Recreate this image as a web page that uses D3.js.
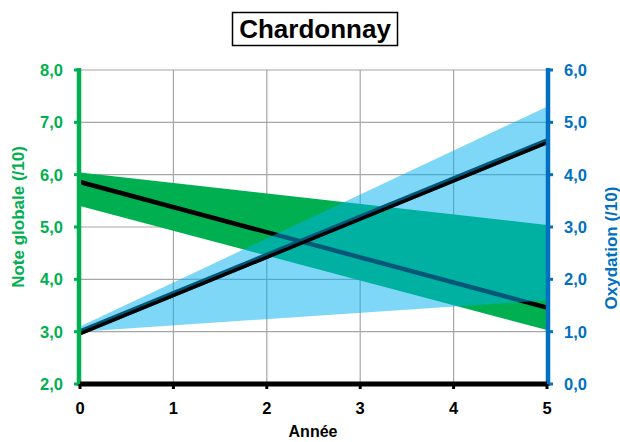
<!DOCTYPE html>
<html>
<head>
<meta charset="utf-8">
<script src="https://cdn.jsdelivr.net/npm/d3@7"></script>
<style>
  body { margin: 0; background: #fff; }
  text { font-family: "Liberation Sans", Arial, sans-serif; font-weight: bold; }
</style>
</head>
<body>
<script>
// Data
const years = [0, 5];
const noteMid = [5.86, 3.46];
const noteHigh = [6.04, 5.04];
const noteLow = [5.4, 3.03];
const oxMid = [0.99, 4.64];
const oxHigh = [1.1, 5.3];
const oxLow = [1.0, 1.6];

const xTicks = [0, 1, 2, 3, 4, 5];
const leftTicks = [2, 3, 4, 5, 6, 7, 8];
const rightTicks = [0, 1, 2, 3, 4, 5, 6];

const width = 620, height = 442;
const green = "#00b050", blue = "#0070c0";
const fmt = d => d.toFixed(1).replace(".", ",");

const x = d3.scaleLinear().domain([0, 5]).range([80, 547]);
const yL = d3.scaleLinear().domain([2, 8]).range([384, 70]);
const yR = d3.scaleLinear().domain([0, 6]).range([384, 70]);

const svg = d3.select("body").append("svg")
    .attr("width", width)
    .attr("height", height);

// grid
svg.append("g")
    .selectAll("line")
    .data(leftTicks)
    .join("line")
    .attr("x1", x(0)).attr("x2", x(5))
    .attr("y1", d => yL(d)).attr("y2", d => yL(d))
    .attr("stroke", "#a6a6a6").attr("stroke-width", 1.2);
svg.append("g")
    .selectAll("line")
    .data(xTicks)
    .join("line")
    .attr("x1", d => x(d)).attr("x2", d => x(d))
    .attr("y1", yL(8)).attr("y2", yL(2))
    .attr("stroke", "#a6a6a6").attr("stroke-width", 1.2);

const pts = (arr) => years.map((t, i) => [t, arr[i]]);

// green band
const noteArea = d3.area()
    .x((d, i) => x(years[i]))
    .y0((d, i) => yL(noteLow[i]))
    .y1((d, i) => yL(noteHigh[i]));
svg.append("path").datum(years).attr("d", noteArea).attr("fill", green);

const lineL = d3.line().x(d => x(d[0])).y(d => yL(d[1]));
const lineR = d3.line().x(d => x(d[0])).y(d => yR(d[1]));

svg.append("path").datum(pts(noteMid)).attr("d", lineL)
    .attr("stroke", "#000").attr("stroke-width", 4.5).attr("fill", "none");

// oxydation line under the band (shows darker edge)
svg.append("path").datum(pts(oxMid)).attr("d", lineR)
    .attr("stroke", "#000").attr("stroke-width", 6).attr("fill", "none");

// blue band
const oxArea = d3.area()
    .x((d, i) => x(years[i]))
    .y0((d, i) => yR(oxLow[i]))
    .y1((d, i) => yR(oxHigh[i]));
svg.append("path").datum(years).attr("d", oxArea)
    .attr("fill", "#00b0f0").attr("fill-opacity", 0.5);

svg.append("path").datum(pts(oxMid)).attr("d", lineR)
    .attr("transform", "translate(0,1.5)")
    .attr("stroke", "#000").attr("stroke-width", 3.5).attr("fill", "none");

// left axis
svg.append("line")
    .attr("x1", x(0) - 1).attr("x2", x(0) - 1)
    .attr("y1", yL(8) - 2).attr("y2", yL(2) + 2)
    .attr("stroke", green).attr("stroke-width", 4.5);
svg.append("g").selectAll("line")
    .data(leftTicks)
    .join("line")
    .attr("x1", x(0) - 6).attr("x2", x(0))
    .attr("y1", d => yL(d)).attr("y2", d => yL(d))
    .attr("stroke", green).attr("stroke-width", 3);
svg.append("g").selectAll("text")
    .data(leftTicks)
    .join("text")
    .attr("x", 63).attr("y", d => yL(d))
    .attr("dy", "0.36em")
    .attr("text-anchor", "end")
    .attr("fill", green)
    .style("font-size", "16.5px")
    .text(fmt);

// right axis
svg.append("line")
    .attr("x1", x(5) + 1).attr("x2", x(5) + 1)
    .attr("y1", yR(6) - 2).attr("y2", yR(0) + 2)
    .attr("stroke", blue).attr("stroke-width", 4.5);
svg.append("g").selectAll("line")
    .data(rightTicks)
    .join("line")
    .attr("x1", x(5)).attr("x2", x(5) + 6)
    .attr("y1", d => yR(d)).attr("y2", d => yR(d))
    .attr("stroke", blue).attr("stroke-width", 3);
svg.append("g").selectAll("text")
    .data(rightTicks)
    .join("text")
    .attr("x", 564).attr("y", d => yR(d))
    .attr("dy", "0.36em")
    .attr("text-anchor", "start")
    .attr("fill", blue)
    .style("font-size", "16.5px")
    .text(fmt);

// bottom axis
svg.append("line")
    .attr("x1", x(0)).attr("x2", x(5))
    .attr("y1", yL(2)).attr("y2", yL(2))
    .attr("stroke", "#000").attr("stroke-width", 5);
svg.append("g").selectAll("line")
    .data(xTicks)
    .join("line")
    .attr("x1", d => x(d)).attr("x2", d => x(d))
    .attr("y1", yL(2)).attr("y2", yL(2) + 5)
    .attr("stroke", "#000").attr("stroke-width", 3);
svg.append("g").selectAll("text")
    .data(xTicks)
    .join("text")
    .attr("x", d => x(d)).attr("y", 408)
    .attr("dy", "0.36em")
    .attr("text-anchor", "middle")
    .style("font-size", "16.5px")
    .text(d => d);

svg.append("text")
    .attr("x", 313).attr("y", 431)
    .attr("dy", "0.36em")
    .attr("text-anchor", "middle")
    .style("font-size", "16px")
    .text("Année");

// axis titles
svg.append("text")
    .attr("transform", "translate(18,217) rotate(-90)")
    .attr("dy", "0.36em")
    .attr("text-anchor", "middle")
    .attr("fill", green)
    .style("font-size", "17px")
    .text("Note globale (/10)");
svg.append("text")
    .attr("transform", "translate(611,248) rotate(-90)")
    .attr("dy", "0.36em")
    .attr("text-anchor", "middle")
    .attr("fill", blue)
    .style("font-size", "17px")
    .text("Oxydation (/10)");

// title
svg.append("rect")
    .attr("x", 232.5).attr("y", 12.5)
    .attr("width", 165).attr("height", 33)
    .attr("fill", "#fff").attr("stroke", "#000").attr("stroke-width", 1.5);
svg.append("text")
    .attr("x", 315).attr("y", 29)
    .attr("dy", "0.36em")
    .attr("text-anchor", "middle")
    .style("font-size", "26px")
    .text("Chardonnay");
</script>
</body>
</html>
